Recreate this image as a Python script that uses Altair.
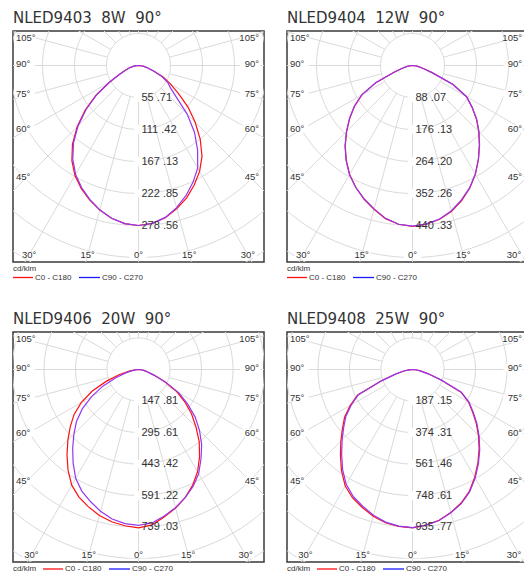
import altair as alt
import pandas as pd

# ---------------- data ----------------
# gamma angles (degrees from nadir), each half of a C-plane
ANGLES = [0, 5, 10, 15, 20, 25, 30, 35, 40, 45, 50, 55, 60, 65, 70, 75, 80, 85, 90]

PANELS = ["NLED9403", "NLED9404", "NLED9406", "NLED9408"]
TITLES = ["NLED9403\u00a0\u00a08W\u00a0\u00a090°", "NLED9404\u00a0\u00a012W\u00a0\u00a090°",
          "NLED9406\u00a0\u00a020W\u00a0\u00a090°", "NLED9408\u00a0\u00a025W\u00a0\u00a090°"]

# ring labels (cd/klm) as printed on the diagrams
RING_LABELS = [
    ["55 .71", "111 .42", "167 .13", "222 .85", "278 .56"],
    ["88 .07", "176 .13", "264 .20", "352 .26", "440 .33"],
    ["147 .81", "295 .61", "443 .42", "591 .22", "739 .03"],
    ["187 .15", "374 .31", "561 .46", "748 .61", "935 .77"],
]

# intensity in % of the outer ring value
P1_C0 = [100, 99, 96.6, 92.6, 88, 82.4, 76.4, 69.2, 60, 50, 40.4, 30.4, 23, 17, 10, 6, 3.4, 1.6, 0]
P1_C180 = [100, 99.2, 97, 93.6, 89.4, 84.8, 79.4, 72.6, 64.2, 54.2, 43.6, 32.4, 21, 13, 9, 6, 3.4, 1.4, 0]
P1_C90 = [100, 99, 96.4, 92, 86.6, 80.6, 74, 64.4, 54.4, 43, 31, 24.4, 21, 16, 10, 6, 3.4, 1.6, 0]
P1_C270 = [100, 99.2, 97, 93.4, 89, 84.2, 78.6, 71.6, 63.2, 53.4, 42.8, 32, 21, 13, 9, 6, 3.4, 1.4, 0]

P2_C0 = [100.6, 99.6, 97.6, 94.4, 89.8, 84.6, 78.6, 71.8, 65, 58.6, 52.2, 45.4, 39, 28, 13, 6.6, 3.4, 1.6, 0]
P2_C180 = [100.6, 99.6, 97.2, 93, 88.8, 84, 78.6, 72.2, 65.4, 58.2, 51.2, 44.2, 36.4, 25, 12, 6.6, 3.4, 1.6, 0]
P2_C90 = [100.4, 99.4, 97.4, 94, 89.4, 84.4, 78.4, 71.8, 65.2, 58.8, 52.4, 45.6, 39, 28, 13, 6.6, 3.4, 1.6, 0]
P2_C270 = [100.4, 99.6, 97, 92.8, 88.6, 84, 78.8, 72.4, 65.6, 58.4, 51.4, 44.4, 36.6, 25.4, 12.2, 6.6, 3.4, 1.6, 0]

P3_C0 = [100.6, 99, 95, 91, 86.6, 81.2, 75, 67.6, 60, 51.6, 44, 36, 28, 18.4, 10.4, 6, 3.4, 1.6, 0]
P3_C180 = [100.6, 99.6, 98.2, 96, 92.8, 89.4, 84.8, 78, 70.6, 63.4, 56.6, 50, 42, 32.4, 21.6, 12.4, 6, 2.4, 0]
P3_C90 = [99, 97.8, 94.4, 90.8, 86.6, 82, 76.4, 69.2, 62.4, 54.8, 47, 38, 29.6, 19, 10.4, 6, 3.4, 1.6, 0]
P3_C270 = [99, 98.2, 96.4, 93.2, 89.2, 85.2, 79.8, 72.4, 65, 58, 51.4, 43.6, 34.4, 25, 15.6, 8.4, 4, 1.6, 0]

P4_C0 = [100.6, 99.2, 97.2, 94, 90.2, 85.4, 79, 72.4, 65.8, 59.2, 52.8, 46.4, 41, 34, 19, 10, 5, 2, 0]
P4_C180 = [100.6, 100, 98.8, 96.4, 93.2, 90, 85.4, 78.6, 71.2, 64.4, 58, 52.6, 45.6, 38.6, 21, 11, 5.6, 2.2, 0]
P4_C90 = [100.4, 99.2, 97.4, 94.2, 90.6, 85.8, 79.6, 73, 66.4, 59.8, 53.4, 47, 41.4, 34.2, 19.2, 10, 5, 2, 0]
P4_C270 = [100.4, 99.8, 98.4, 95.8, 92.4, 89, 84.2, 77.4, 70, 63.2, 57, 51.6, 44.8, 38, 20.6, 10.8, 5.6, 2.2, 0]

CURVES = {
    "NLED9403": (P1_C0, P1_C180, P1_C90, P1_C270),
    "NLED9404": (P2_C0, P2_C180, P2_C90, P2_C270),
    "NLED9406": (P3_C0, P3_C180, P3_C90, P3_C270),
    "NLED9408": (P4_C0, P4_C180, P4_C90, P4_C270),
}

SIDE_ANGLES = [105, 90, 75, 60, 45]
BOTTOM_ANGLES = [-30, -15, 0, 15, 30]

# ---------------- tables ----------------
rows = []
for pid, (c0, c180, c90, c270) in CURVES.items():
    for series, right, left in (("C0 - C180", c0, c180), ("C90 - C270", c90, c270)):
        k = 0
        for a, v in zip(ANGLES[::-1], left[::-1]):
            rows.append({"panel": pid, "series": series, "angle": -a, "pct": v, "ord": k})
            k += 1
        for a, v in zip(ANGLES[1:], right[1:]):
            rows.append({"panel": pid, "series": series, "angle": a, "pct": v, "ord": k})
            k += 1
curve_df = pd.DataFrame(rows)

side_df = pd.DataFrame({"ang": SIDE_ANGLES, "label": [f"{a}°" for a in SIDE_ANGLES]})
bottom_df = pd.DataFrame({"ang": BOTTOM_ANGLES, "label": [f"{abs(a)}°" for a in BOTTOM_ANGLES]})

# ---------------- geometry / style ----------------
W = 251
CX = 125.5           # pixel offset of the pole from the box's left edge
# per row: box height, pole offset from box top, pixels per ring
ROW_GEOM = [(231, 34.5, 32.0), (230, 37.5, 31.5)]

GRID = "#dadada"
TXT = "#333333"
RED = "#ff1010"
PURPLE = "#9438f0"
LEGEND_BLUE = "#1a1aff"
FONT = "Liberation Sans"
BOXPATH = "M-1,-0.38L1,-0.38L1,0.38L-1,0.38Z"   # label background (white box)

one = alt.Data(values=[{"u": 1}])


def panel(idx):
    pid = PANELS[idx]
    H, CY, RP = ROW_GEOM[idx // 2]
    XS = alt.Scale(domain=[-CX / RP, (W - CX) / RP], nice=False, zero=False)
    YS = alt.Scale(domain=[-(H - CY) / RP, CY / RP], nice=False, zero=False)

    def X(f):
        return alt.X(f, type="quantitative", scale=XS, axis=None)

    def Y(f):
        return alt.Y(f, type="quantitative", scale=YS, axis=None)

    rings = alt.Chart(alt.sequence(0, 8 * 121, as_="i")).transform_calculate(
        ring="floor(datum.i / 121) + 1",
        a="(datum.i % 121) * 3 * PI / 180",
    ).transform_calculate(
        x="datum.ring * sin(datum.a)", y="datum.ring * cos(datum.a)"
    ).mark_line(clip=True, color=GRID, strokeWidth=1).encode(
        x=X("x"), y=Y("y"), detail="ring:N", order="i:Q"
    )

    radials = alt.Chart(alt.sequence(0, 24, as_="k")).transform_calculate(
        a="datum.k * 15 * PI / 180"
    ).transform_calculate(
        x1="sin(datum.a)", y1="-cos(datum.a)", xe="9 * sin(datum.a)", ye="-9 * cos(datum.a)"
    ).mark_rule(clip=True, color=GRID, strokeWidth=1).encode(
        x=X("x1"), y=Y("y1"), x2="xe:Q", y2="ye:Q"
    )

    lab_df = pd.DataFrame({"k": [1, 2, 3, 4, 5], "label": RING_LABELS[idx]})
    lab_base = alt.Chart(lab_df).transform_calculate(x="0", y="-datum.k")
    gaps = lab_base.mark_square(size=75, color="white", opacity=1, strokeWidth=0).encode(
        x=X("x"), y=Y("y")
    )
    ring_text = lab_base.mark_text(
        align="left", baseline="middle", dx=3, font=FONT, fontSize=11, color=TXT
    ).encode(x=X("x"), y=Y("y"), text="label:N")

    cbase = alt.Chart(curve_df).transform_filter(
        alt.datum.panel == pid
    ).transform_calculate(
        r="datum.pct / 20", t="datum.angle * PI / 180"
    ).transform_calculate(
        x="datum.r * sin(datum.t)", y="-datum.r * cos(datum.t)"
    )
    red = cbase.transform_filter(alt.datum.series == "C0 - C180").mark_line(
        clip=True, color=RED, strokeWidth=1.2
    ).encode(x=X("x"), y=Y("y"), order="ord:Q")
    purple = cbase.transform_filter(alt.datum.series == "C90 - C270").mark_line(
        clip=True, color=PURPLE, strokeWidth=1.2
    ).encode(x=X("x"), y=Y("y"), order="ord:Q")

    side_x = (CX - 12) / RP
    top_lim = (CY - 7) / RP
    side = alt.Chart(side_df).transform_calculate(
        y=f"min({top_lim}, -{side_x} * cos(datum.ang * PI / 180) / sin(datum.ang * PI / 180) + {2 / RP})"
    )
    # right-hand column: the right panels are cut by the page edge, keep labels visible
    rx = W - 5 if idx % 2 == 0 else W - 16
    bg_kw = dict(shape=BOXPATH, filled=True, color="white", opacity=1, strokeWidth=0,
                 size=380, clip=True)
    txt_kw = dict(baseline="middle", font=FONT, fontSize=9.5, color=TXT, clip=True)
    left_bg = side.mark_point(**bg_kw).encode(x=alt.value(12), y=Y("y"))
    left_t = side.mark_text(align="left", **txt_kw).encode(x=alt.value(3), y=Y("y"), text="label:N")
    right_bg = side.mark_point(**bg_kw).encode(x=alt.value(rx - 9), y=Y("y"))
    right_t = side.mark_text(align="right", **txt_kw).encode(x=alt.value(rx), y=Y("y"), text="label:N")

    bot_y = (H - 7 - CY) / RP
    bot_max = (rx - 8 - CX) / RP
    bottom = alt.Chart(bottom_df).transform_calculate(
        x=f"min({bot_max}, {bot_y} * tan(datum.ang * PI / 180))"
    )
    bot_bg = bottom.mark_point(shape=BOXPATH, filled=True, color="white", opacity=1,
                               strokeWidth=0, size=300, clip=True).encode(
        x=X("x"), y=alt.value(H - 7))
    bot_t = bottom.mark_text(align="center", baseline="middle", font=FONT, fontSize=9.5,
                             color=TXT).encode(x=X("x"), y=alt.value(H - 7), text="label:N")

    # legend under the box (bottom row: single line so that it stays on the page)
    if idx < 2:
        ly_unit, ly_items, lx0 = H + 7, H + 15.5, 0
    else:
        ly_unit, ly_items, lx0 = H + 7, H + 7, 30
    unit = alt.Chart(one).mark_text(text="cd/klm", align="left", baseline="middle",
                                    font=FONT, fontSize=8, color=TXT).encode(
        x=alt.value(0), y=alt.value(ly_unit))
    leg_red = alt.Chart(one).mark_rule(color=RED, strokeWidth=1.3).encode(
        x=alt.value(lx0), x2=alt.value(lx0 + 20), y=alt.value(ly_items))
    leg_red_t = alt.Chart(one).mark_text(text="C0 - C180", align="left", baseline="middle",
                                         font=FONT, fontSize=8, color=TXT).encode(
        x=alt.value(lx0 + 22), y=alt.value(ly_items))
    leg_blue = alt.Chart(one).mark_rule(color=LEGEND_BLUE, strokeWidth=1.3).encode(
        x=alt.value(lx0 + 66), x2=alt.value(lx0 + 87), y=alt.value(ly_items))
    leg_blue_t = alt.Chart(one).mark_text(text="C90 - C270", align="left", baseline="middle",
                                          font=FONT, fontSize=8, color=TXT).encode(
        x=alt.value(lx0 + 89), y=alt.value(ly_items))

    return alt.layer(
        rings, radials, gaps, red, purple, ring_text,
        left_bg, left_t, right_bg, right_t, bot_bg, bot_t,
        unit, leg_red, leg_red_t, leg_blue, leg_blue_t,
    ).properties(
        width=W, height=H,
        title=alt.TitleParams(TITLES[idx], anchor="start", frame="group", font="DejaVu Sans",
                              fontSize=15, fontWeight="normal", color=TXT, offset=5),
    )


chart = alt.concat(
    *[panel(i) for i in range(4)], columns=2,
    spacing={"row": 70, "column": 23}, bounds="flush",
).properties(
    autosize=alt.AutoSizeParams(type="none"),
    padding={"left": 5, "top": 23, "right": 511, "bottom": 543},
    background="white",
).configure_view(stroke="#3a3a3a", strokeWidth=1.5)

chart.save("out.html", embed_options={"renderer": "svg", "actions": False})
